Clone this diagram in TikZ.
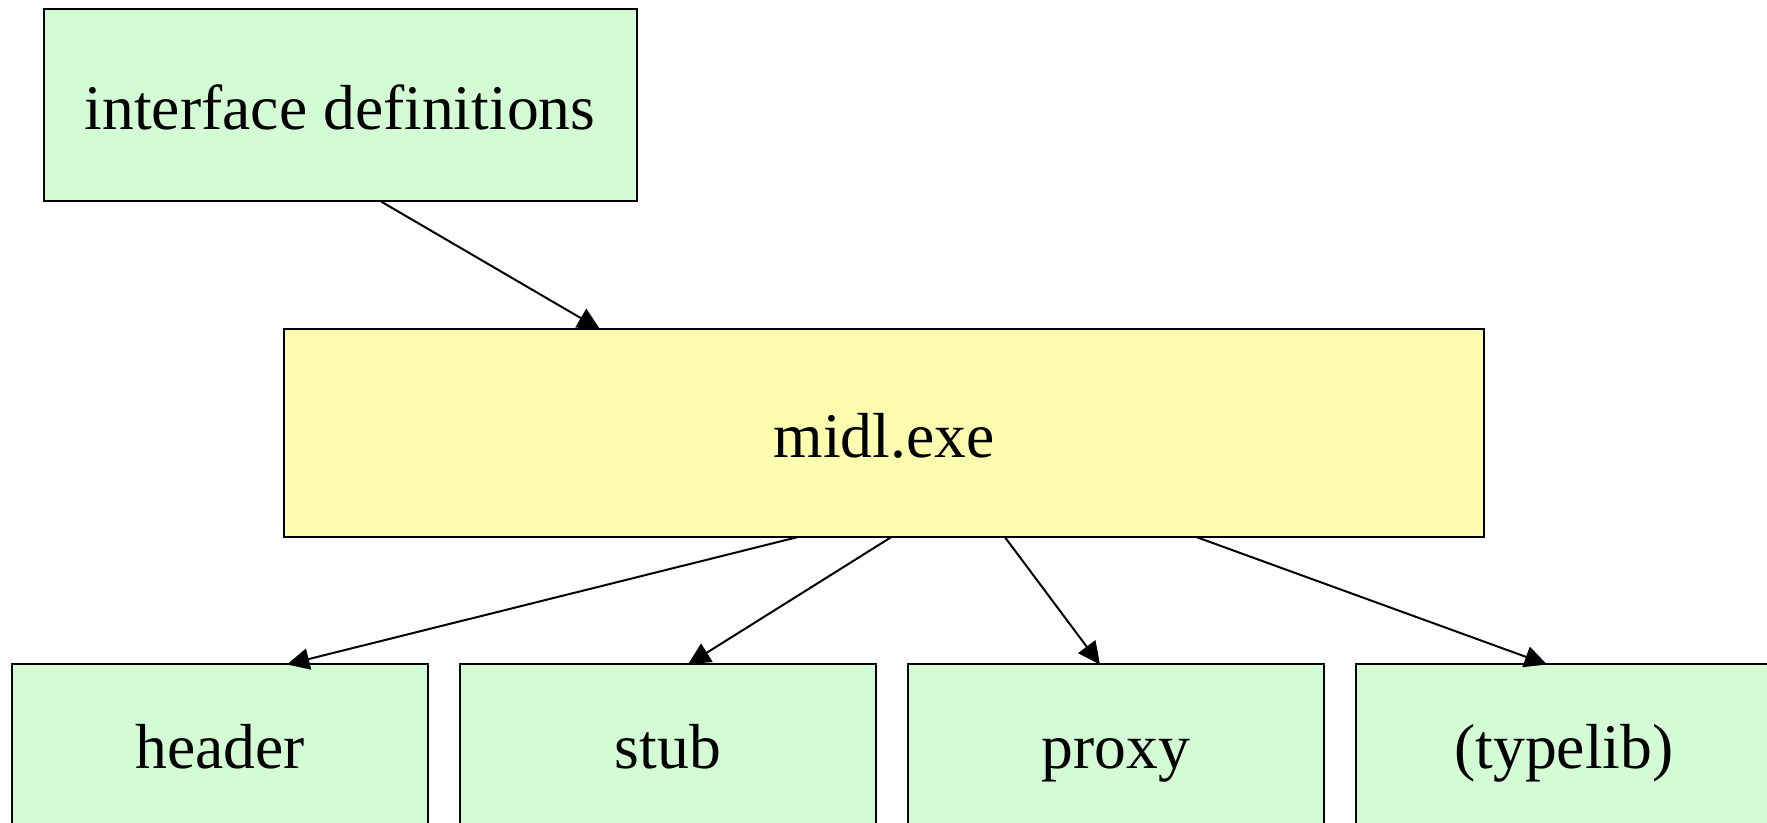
\documentclass[tikz,border=0pt]{standalone}
\usepackage{fontspec}
\setmainfont{Liberation Serif}
\usetikzlibrary{arrows.meta}
\definecolor{boxgreen}{RGB}{212,252,212}
\definecolor{boxyellow}{RGB}{254,252,175}
\begin{document}
\begin{tikzpicture}[x=0.22pt,y=-0.22pt,
  box/.style={draw=black, line width=0.44pt, fill=boxgreen, rectangle,
    outer sep=0pt, inner sep=0pt, font=\fontsize{14pt}{16pt}\selectfont,
    text height=10.56pt, text depth=0pt},
  tool/.style={box, fill=boxyellow},
  outbox/.style={box, minimum width=416*0.22pt, minimum height=160*0.22pt},
  flow/.style={line width=0.44pt, -{Triangle[length=4.9pt,width=4.7pt]}}]
\useasboundingbox (0,0) rectangle (1767,823);
\clip (0,0) rectangle (1767,823);

% input and compiler
\node[box, minimum width=593*0.22pt, minimum height=192.5*0.22pt] (idl) at (340,105.25) {interface definitions};
\node[tool, minimum width=1200*0.22pt, minimum height=208*0.22pt] (midl) at (884,433.3) {midl.exe};

% generated outputs
\node[outbox] (header)  at (220,744.5)  {header};
\node[outbox] (stub)    at (668,744.5)  {stub};
\node[outbox] (proxy)   at (1116,744.5) {proxy};
\node[outbox] (typelib) at (1564,744.5) {(typelib)};

% connectors
\draw[flow] ([xshift=41*0.22pt]idl.south)   -- ([xshift=-284*0.22pt]midl.north);
\draw[flow] ([xshift=-87*0.22pt]midl.south) -- ([xshift=67*0.22pt]header.north);
\draw[flow] ([xshift=7*0.22pt]midl.south)   -- ([xshift=20*0.22pt]stub.north);
\draw[flow] ([xshift=121*0.22pt]midl.south) -- ([xshift=-16*0.22pt]proxy.north);
\draw[flow] ([xshift=313*0.22pt]midl.south) -- ([xshift=-17*0.22pt]typelib.north);
\end{tikzpicture}
\end{document}
